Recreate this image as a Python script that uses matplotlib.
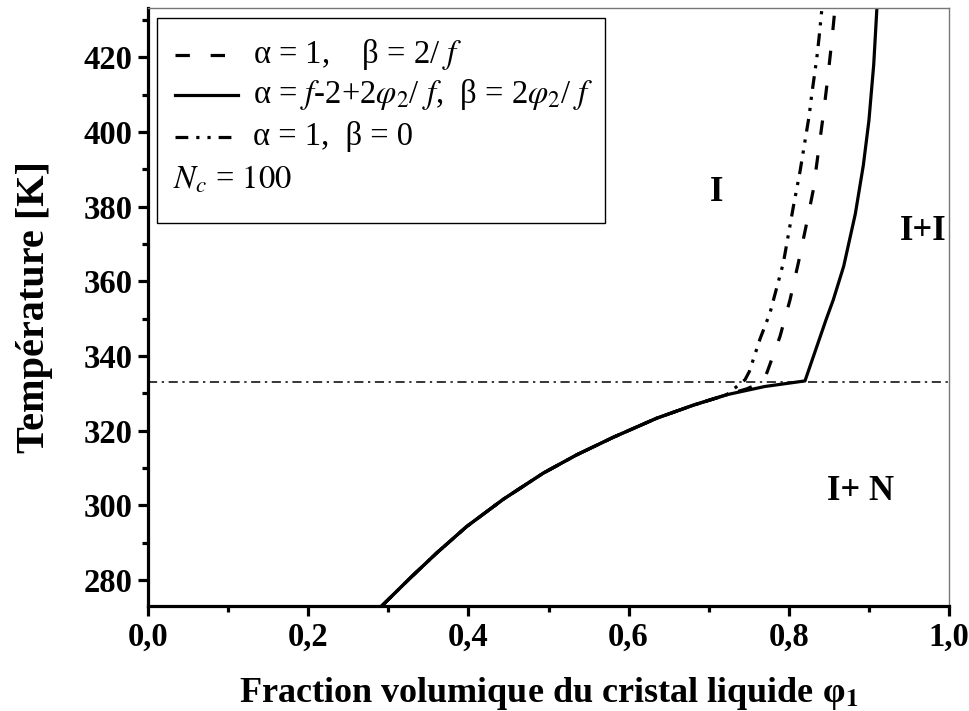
import matplotlib
matplotlib.use("Agg")
import matplotlib.pyplot as plt
from matplotlib.patches import Rectangle
from matplotlib.ticker import MultipleLocator, FuncFormatter

plt.rcParams['font.family'] = ['Liberation Serif', 'DejaVu Serif']
plt.rcParams['mathtext.fontset'] = 'stix'

# shared lower (I+N) branch
lower_x = [0.2918, 0.3271, 0.3604, 0.3979, 0.4436, 0.4935, 0.5352, 0.5809, 0.635, 0.6808, 0.7225]
lower_T = [273.0, 280.45, 287.2, 294.3, 301.6, 308.6, 313.5, 318.2, 323.3, 326.8, 329.6]

# solid: alpha = f-2+2phi2/f, beta = 2phi2/f
solid_x = [0.770, 0.8202, 0.8465, 0.8555, 0.8685, 0.8830, 0.8930, 0.9000, 0.9060, 0.9100]
solid_T = [331.8, 333.3, 349.7, 355.0, 364.0, 378.0, 391.0, 403.0, 418.0, 433.2]

# dashed: alpha = 1, beta = 2/f
dash_x = [0.748, 0.768, 0.7732, 0.789, 0.8015, 0.8119, 0.8215, 0.8306, 0.8431, 0.8486, 0.8536, 0.8577]
dash_T = [331.2, 333.1, 335.8, 345.2, 355.0, 364.9, 374.7, 384.5, 404.6, 414.4, 424.2, 433.2]

# dash-dot-dot: alpha = 1, beta = 0
ddd_x = [0.7453, 0.7507, 0.764, 0.7765, 0.7932, 0.8057, 0.814, 0.8256, 0.8286, 0.8348, 0.8377, 0.8414]
ddd_T = [333.6, 335.8, 344.5, 351.5, 364.9, 380.0, 389.4, 404.6, 410.0, 419.5, 425.1, 433.2]

T_triple = 333.1

labels = [r"α = 1,    β = 2/ $f$",
          r"α = $f$-2+2$\varphi_2$/ $f$,  β = 2$\varphi_2$/ $f$",
          r"α = 1,  β = 0"]
nc_label = r"$N_c$ = $\mathit{100}$"

regions = [("I", 0.71, 383.9), ("I+I", 0.968, 373.2), ("I+ N", 0.89, 303.8)]

W, H = 969, 711
AX_L, AX_R, AX_T, AX_B = 148, 949, 8, 606

fig = plt.figure(figsize=(W/100, H/100), dpi=100)
ax = fig.add_axes([AX_L/W, 1-AX_B/H, (AX_R-AX_L)/W, (AX_B-AX_T)/H])

def axc(px, py):
    return (px-AX_L)/(AX_R-AX_L), (AX_B-py)/(AX_B-AX_T)

lw = 2.3
styles = [(0, (4.5, 6.5)), '-', (0, (4, 2.5, 1, 2.5, 1, 2.5))]
ax.plot(lower_x + dash_x, lower_T + dash_T, color='black', lw=lw, linestyle=styles[0])
ax.plot(lower_x + solid_x, lower_T + solid_T, color='black', lw=lw, linestyle=styles[1])
ax.plot(lower_x + ddd_x, lower_T + ddd_T, color='black', lw=lw, linestyle=styles[2])
ax.plot(lower_x, lower_T, color='black', lw=lw)

ax.axhline(T_triple, color='black', lw=1.1, linestyle=(0, (6, 3, 1.5, 3)))

ax.set_xlim(0, 1.0)
ax.set_ylim(273.0, 433.2)

ax.xaxis.set_major_locator(MultipleLocator(0.2))
ax.xaxis.set_minor_locator(MultipleLocator(0.1))
ax.yaxis.set_major_locator(MultipleLocator(20))
ax.yaxis.set_minor_locator(MultipleLocator(10))
ax.xaxis.set_major_formatter(FuncFormatter(lambda v, p: f"{v:.1f}".replace('.', ',')))

for s in ['left', 'bottom']:
    ax.spines[s].set_linewidth(2.3)
    ax.spines[s].set_color('black')
for s in ['top', 'right']:
    ax.spines[s].set_linewidth(1.0)
    ax.spines[s].set_color('#777777')

ax.tick_params(which='both', direction='out', top=False, right=False, width=2.3, color='black')
ax.tick_params(which='major', length=7, labelsize=23.5, pad=4)
ax.tick_params(which='minor', length=4)
for t in ax.get_xticklabels() + ax.get_yticklabels():
    t.set_fontweight('bold')

ax.set_xlabel("Fraction volumique du cristal liquide φ$_{\\mathbf{1}}$", fontsize=26,
              fontweight='bold', labelpad=16)
ax.set_ylabel("Température [K]", fontsize=29, fontweight='bold', labelpad=22)

for txt, x, y in regions:
    ax.text(x, y, txt, fontsize=25, fontweight='bold', ha='center', va='center')

# legend (manual layout)
leg_fs = 23.5
rows_y = [55, 95, 137]
for st, lab, py in zip(styles, labels, rows_y):
    x0, y0 = axc(175, py)
    x1, _ = axc(238, py)
    ax.plot([x0, x1], [y0, y0], transform=ax.transAxes, color='black', lw=lw,
            linestyle=st, clip_on=False, zorder=6)
    tx, ty = axc(253, py)
    ax.text(tx, ty, lab, transform=ax.transAxes, fontsize=leg_fs, ha='left', va='center', zorder=6)
tx, ty = axc(173, 180)
ax.text(tx, ty, nc_label, transform=ax.transAxes, fontsize=leg_fs, ha='left', va='center', zorder=6)

bx0, by1 = axc(157, 18)
bx1, by0 = axc(605, 223)
ax.add_patch(Rectangle((bx0, by0), bx1-bx0, by1-by0, transform=ax.transAxes,
                       fill=True, facecolor='white', edgecolor='black', lw=1.0, zorder=5))

fig.savefig("out.png", dpi=100)
